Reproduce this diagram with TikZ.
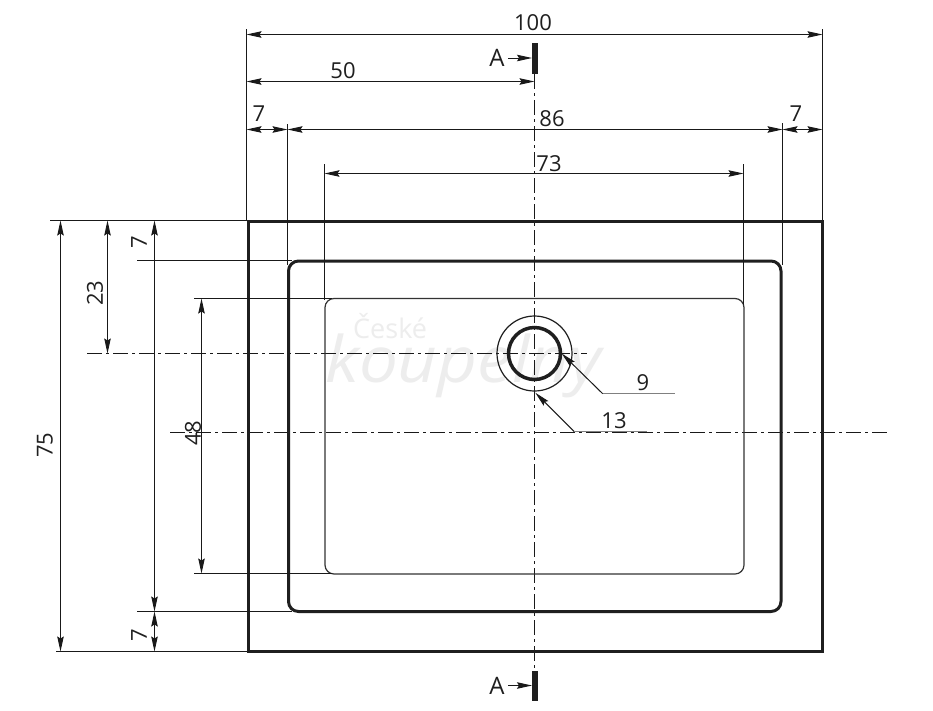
\documentclass[tikz,border=0pt]{standalone}
\usepackage{fontspec}
\setmainfont{Open Sans}
\usetikzlibrary{arrows.meta}
\tikzset{
  dim/.style={line width=1pt,draw=black!90,{Stealth[length=15pt,width=6.5pt,inset=2pt]}-{Stealth[length=15pt,width=6.5pt,inset=2pt]}},
  tipend/.style={line width=1pt,draw=black!90,-{Stealth[length=15pt,width=6.5pt,inset=2pt]}},
  ext/.style={line width=1pt,draw=black!90},
  axis/.style={line width=1pt,draw=black!90,dash pattern=on 15pt off 4pt on 3pt off 4pt},
  heavy/.style={line width=3pt,draw=black!88},
  lab/.style={font=\fontsize{22}{24}\selectfont,text=black!88,inner sep=0pt},
  bar/.style={fill=black!88,draw=none},
  grayline/.style={line width=1.3pt,draw=black!50}
}
\begin{document}
\begin{tikzpicture}[x=1pt,y=-1pt]
\useasboundingbox (0,0) rectangle (933,710);
\fill[white] (0,0) rectangle (933,710);
% watermark
\node[font=\fontsize{27}{29}\selectfont,text=black!7,inner sep=0pt,anchor=base west] (wma) at (353,338) {České};
\node[font=\fontsize{64}{66}\selectfont\itshape,text=black!7,inner sep=0pt,anchor=base west,text height=30pt] (wmb) at (325,382) {\scalebox{1.08}[1]{koupelny}};
% axes
\draw[axis] (534.5,74) -- (534.5,670);
\draw[axis] (87,353.5) -- (587,353.5);
\draw[axis] (170,432.5) -- (890,432.5);
% body
\draw[heavy,line cap=square] (248,221) rectangle (822,651.5);
\draw[heavy,rounded corners=10pt] (288.5,261) rectangle (781,611.5);
\draw[line width=1.2pt,draw=black!80,rounded corners=9pt] (325,298.5) rectangle (744,574);
\coordinate (c) at (534.5,353.5);
\draw[line width=1.2pt,draw=black!88] (c) circle[radius=37.5];
\draw[line width=3.5pt,draw=black!88] (c) circle[radius=26];
% extension lines
\draw[ext] (246.5,29) -- (246.5,220);
\draw[ext] (822.5,29) -- (822.5,220);
\draw[ext] (287.5,124) -- (287.5,265);
\draw[ext] (782.5,123) -- (782.5,265);
\draw[ext] (324.5,164) -- (324.5,300);
\draw[ext] (743.5,164) -- (743.5,305);
\draw[ext] (50,220.5) -- (247,220.5);
\draw[ext] (137,260.5) -- (292,260.5);
\draw[ext] (194,298.5) -- (332,298.5);
\draw[ext] (194,573.5) -- (332,573.5);
\draw[ext] (137,611.5) -- (292,611.5);
\draw[ext] (56,651.5) -- (247,651.5);
% horizontal dimensions
\draw[dim] (246.5,34.5) -- (822.5,34.5);
\draw[dim] (246.5,81.5) -- (534.5,81.5);
\draw[dim] (246.5,129.5) -- (287.5,129.5);
\draw[dim] (287.5,129.5) -- (782.5,129.5);
\draw[dim] (782.5,129.5) -- (822.5,129.5);
\draw[dim] (324.5,173.5) -- (743.5,173.5);
% vertical dimensions
\draw[dim] (60.5,220.5) -- (60.5,651.5);
\draw[dim] (107.5,220.5) -- (107.5,353.5);
\draw[dim] (154.5,220.5) -- (154.5,611.5);
\draw[dim] (154.5,611.5) -- (154.5,651.5);
\draw[dim] (201.5,298.5) -- (201.5,573.5);
% labels
\node[lab] (l100) at (533,23) {100};
\node[lab] (l50) at (343,71) {50};
\node[lab] (l7a) at (259,114) {7};
\node[lab] (l86) at (552,119) {86};
\node[lab] (l7b) at (796,114) {7};
\node[lab] (l73) at (549,164) {73};
\node[lab,rotate=90] (l75) at (45,445) {75};
\node[lab,rotate=90] (l23) at (95,293) {23};
\node[lab,rotate=90] (l7c) at (139,242) {7};
\node[lab,rotate=90] (l7d) at (139,635) {7};
\node[lab,rotate=90] (l48) at (193,433) {48};
% section marks
\fill[bar] (532,43) rectangle (538,74);
\fill[bar] (532,671) rectangle (538,701);
\node[lab,font=\fontsize{24}{26}\selectfont] (a1) at (497,58) {A};
\node[lab,font=\fontsize{24}{26}\selectfont] (a2) at (497,686) {A};
\draw[tipend] (508,58) -- (532,58);
\draw[tipend] (508,685.5) -- (532,685.5);
% leaders
\coordinate (k9) at (602.7,393.7);
\coordinate (k13) at (574.3,431.7);
\draw[tipend] (k9) -- (561.7,353.5);
\draw[tipend] (k13) -- (535.3,392.7);
\draw[grayline] (k9) -- (675,393.7);
\draw[grayline] (k13) -- (646.7,431.7);
\node[lab] (l9) at (643,383) {9};
\node[lab] (l13) at (614,421) {13};
\end{tikzpicture}
\end{document}
